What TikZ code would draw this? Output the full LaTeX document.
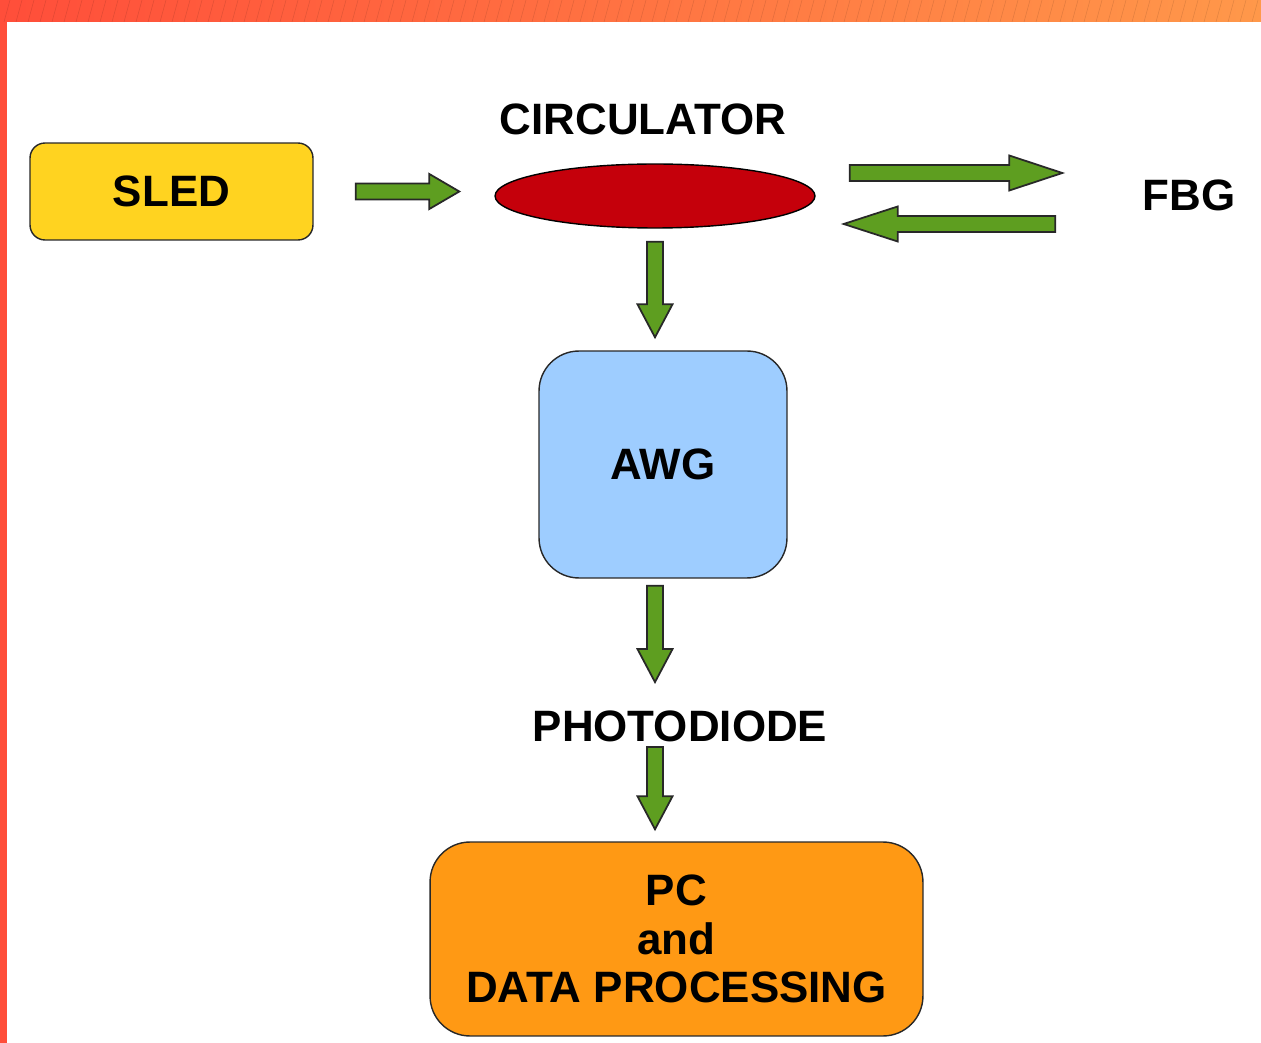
\documentclass[tikz,border=0pt]{standalone}
\usepackage{fontspec}
\setmainfont{Liberation Sans}
\usetikzlibrary{shapes.geometric, calc, positioning}
\definecolor{sledyellow}{RGB}{255,211,32}
\definecolor{circred}{RGB}{197,0,11}
\definecolor{awgblue}{RGB}{158,205,255}
\definecolor{pcorange}{RGB}{255,153,20}
\definecolor{flowgreen}{RGB}{94,158,32}
\definecolor{edgegray}{RGB}{40,40,40}
\definecolor{frameleft}{RGB}{255,78,58}
\definecolor{frameright}{RGB}{255,152,74}

\begin{document}
\begin{tikzpicture}[
    x=0.02cm, y=-0.02cm,
    box/.style={
        rectangle,
        draw=edgegray,
        line width=0.8pt,
        align=center,
        font=\fontsize{25}{27.5}\selectfont\bfseries
    },
    title/.style={
        inner sep=0pt,
        font=\fontsize{25}{27.5}\selectfont\bfseries
    },
    blockflow/.style n args={3}{
        draw=edgegray,
        line width=1pt,
        fill=flowgreen,
        line join=miter,
        to path={
            let \p1=($(\tikztostart)!#1!(\tikztotarget)$),
                \p2=($(\tikztotarget)!#2!(\tikztostart)$) in
            ($(\p1)!0.16cm!90:(\p2)$) -- ($(\p2)!#3!(\p1)!0.16cm!90:(\p2)$)
            -- ($(\p2)!#3!(\p1)!0.35cm!90:(\p2)$) -- (\p2)
            -- ($(\p2)!#3!(\p1)!0.35cm!-90:(\p2)$) -- ($(\p2)!#3!(\p1)!0.16cm!-90:(\p2)$)
            -- ($(\p1)!0.16cm!-90:(\p2)$) -- cycle
        }
    }
]

\useasboundingbox (0,0) rectangle (1261,1043);
\fill[white] (0,0) rectangle (1261,1043);
\shade[left color=frameleft, right color=frameright] (0,0) rectangle (1261,22);
\fill[frameleft] (0,0) rectangle (7,1043);
\foreach \i in {-20,-8,...,1270}
    \draw[black, opacity=0.12, line width=0.3pt] (\i,22) -- (\i+6,0);

\node[box, fill=sledyellow, minimum width=5.66cm, minimum height=1.94cm, rounded corners=0.3cm] (sled) at (171.5,191.5) {SLED};
\node[ellipse, draw=black, line width=0.8pt, fill=circred, minimum width=6.4cm, minimum height=1.28cm, inner sep=0pt] (circ) at (655,196) {};
\node[title] (circlabel) at (643,119) {CIRCULATOR};
\node[title] (fbg) at (1189,195) {FBG};
\node[box, fill=awgblue, minimum width=4.96cm, minimum height=4.54cm, rounded corners=0.8cm] (awg) at (663,464.5) {AWG};
\node[title] (pd) at (680,726) {PHOTODIODE};
\node[box, fill=pcorange, minimum width=9.86cm, minimum height=3.88cm, rounded corners=0.8cm] (pc) at (676.5,939) {PC\\and\\DATA PROCESSING};

\draw[blockflow={0.84cm}{0.7cm}{0.6cm}] (sled.east) to (sled.east -| circ.west);
\draw[blockflow={0.68cm}{1.6cm}{1.06cm}] ([yshift=0.46cm]circ.east) to ([yshift=0.46cm]circ.east -| fbg.west);
\draw[blockflow={1.74cm}{0.56cm}{1.08cm}] ([yshift=-0.56cm]circ.east -| fbg.west) to ([yshift=-0.56cm]circ.east);
\draw[blockflow={0.26cm}{0.26cm}{0.66cm}] (circ.south) to (circ.south |- awg.north);
\draw[blockflow={0.14cm}{0.56cm}{0.66cm}] (awg.south -| circ.south) to (circ.south |- pd.north);
\draw[blockflow={0.1cm}{0.24cm}{0.66cm}] (circ.south |- pd.south) to (circ.south |- pc.north);

\end{tikzpicture}
\end{document}
